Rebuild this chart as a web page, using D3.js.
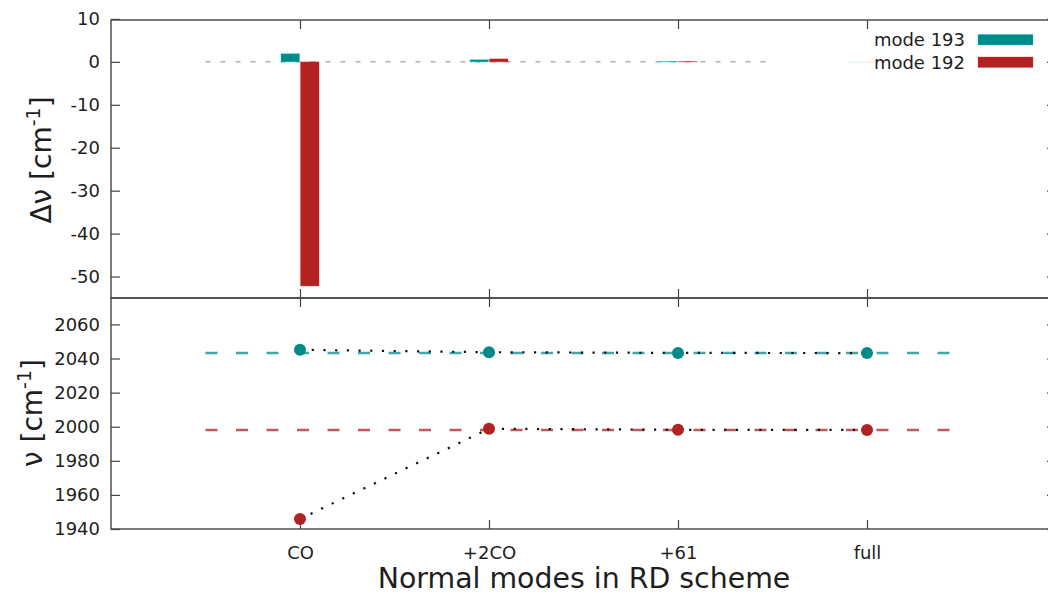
<!DOCTYPE html>
<html>
<head>
<meta charset="utf-8">
<script src="https://cdn.jsdelivr.net/npm/d3@7"></script>
<style>
  html, body { margin: 0; padding: 0; background: #fff; }
  svg { display: block; font-family: "DejaVu Sans", sans-serif; }
</style>
</head>
<body>
<svg id="chart" width="1048" height="595"></svg>
<script>
// Normal-mode subsets of the RD scheme
const categories = ["CO", "+2CO", "+61", "full"];

// Frequencies [cm^-1] for each subset
const mode193 = [2045.1, 2043.7, 2043.3, 2043.2];
const mode192 = [1945.9, 1998.8, 1998.2, 1998.1];

// Shift relative to the full calculation [cm^-1]
const shift193 = [1.9, 0.5, 0.1, 0.0];
const shift192 = [-52.2, 0.7, 0.1, 0.0];

const seriesNames = ["mode 193", "mode 192"];
const topTicks = [10, 0, -10, -20, -30, -40, -50];
const bottomTicks = [1940, 1960, 1980, 2000, 2020, 2040, 2060];

const teal = "#008b8b";
const red = "#b22222";
const frame = "#444";
const ink = "#1e1e1e";

const svg = d3.select("#chart");

const left = 111, right = 1056;
const topY0 = 20, split = 298, botY1 = 529;

const x = d3.scaleLinear().domain([-1, 4]).range([left, right]);
const yTop = d3.scaleLinear().domain([-55, 9.75]).range([split, topY0]);
const yBot = d3.scaleLinear().domain([1940, 2075.5]).range([botY1, split]);

const fs = 18;
const plain = d => String(d);   // hyphen minus, no thousands separator

function styleAxis(g, showLabels) {
  g.select(".domain").remove();
  g.selectAll(".tick line").attr("stroke", frame).attr("stroke-width", 1.2);
  g.selectAll(".tick text")
    .attr("fill", ink)
    .style("font-size", fs + "px")
    .style("font-family", "DejaVu Sans, sans-serif")
    .attr("display", showLabels ? null : "none");
}

// ---------- upper panel: frequency shifts ----------
const upper = svg.append("g");

// zero reference
upper.append("line")
  .attr("x1", x(-0.5)).attr("x2", x(2.5))
  .attr("y1", yTop(0)).attr("y2", yTop(0))
  .attr("stroke", "#8a8a8a").attr("stroke-width", 1)
  .attr("stroke-dasharray", "5,10");

const barW = x(0.098) - x(0);
const barData = [];
categories.forEach((c, i) => {
  barData.push({ i, v: shift193[i], side: -1, color: teal });
  barData.push({ i, v: shift192[i], side: 1, color: red });
});

upper.selectAll("rect.bar")
  .data(barData)
  .join("rect")
  .attr("class", "bar")
  .attr("x", d => d.side < 0 ? x(d.i) - barW - 0.5 : x(d.i) + 0.5)
  .attr("width", barW)
  .attr("y", d => yTop(Math.max(0, d.v)))
  .attr("height", d => Math.max(0.5, Math.abs(yTop(d.v) - yTop(0))))
  .attr("fill", d => d.color)
  .attr("fill-opacity", d => d.v === 0 ? 0.08 : 1)
  .attr("stroke", d => d3.color(d.color).brighter(1.2))
  .attr("stroke-opacity", d => d.v === 0 ? 0.08 : 0.35)
  .attr("stroke-width", 1);

// y axis (left, ticks inward) + mirrored right ticks
upper.append("g")
  .attr("transform", `translate(${left},0)`)
  .call(d3.axisLeft(yTop).tickValues(topTicks).tickFormat(plain).tickSize(-9).tickPadding(11))
  .call(g => styleAxis(g, true));
upper.append("g")
  .attr("transform", `translate(${right},0)`)
  .call(d3.axisRight(yTop).tickValues(topTicks).tickSize(-9))
  .call(g => styleAxis(g, false));
// x ticks on both borders
upper.append("g")
  .attr("transform", `translate(0,${topY0})`)
  .call(d3.axisTop(x).tickValues(d3.range(categories.length)).tickSize(-9))
  .call(g => styleAxis(g, false));
upper.append("g")
  .attr("transform", `translate(0,${split})`)
  .call(d3.axisBottom(x).tickValues(d3.range(categories.length)).tickSize(-9))
  .call(g => styleAxis(g, false));

upper.append("rect")
  .attr("x", left).attr("y", topY0)
  .attr("width", right - left).attr("height", split - topY0)
  .attr("fill", "none").attr("stroke", frame).attr("stroke-width", 1.4);

// legend
const legend = upper.append("g");
[teal, red].forEach((col, k) => {
  const yb = 46 + k * 22.5;
  legend.append("text")
    .attr("x", 965).attr("y", yb)
    .attr("text-anchor", "end")
    .attr("fill", ink)
    .style("font-size", fs + "px")
    .text(seriesNames[k]);
  legend.append("rect")
    .attr("x", 978).attr("y", yb - 11.5)
    .attr("width", 55).attr("height", 10.5)
    .attr("fill", col)
    .attr("stroke", d3.color(col).brighter(1.2))
    .attr("stroke-opacity", 0.35);
});

// y title
upper.append("text")
  .attr("transform", `translate(51,${160}) rotate(-90)`)
  .attr("text-anchor", "middle")
  .attr("fill", ink)
  .style("font-size", "28px")
  .call(t => {
    t.append("tspan").text("Δν [cm");
    t.append("tspan").attr("baseline-shift", "super").style("font-size", "19px").text("-1");
    t.append("tspan").text("]");
  });

// ---------- lower panel: frequencies ----------
const lower = svg.append("g");

const series = [
  { vals: mode193, color: teal },
  { vals: mode192, color: red }
];

// full-calculation reference levels
series.forEach(s => {
  const ref = s.vals[s.vals.length - 1];
  lower.append("line")
    .attr("x1", x(-0.5)).attr("x2", x(3.5))
    .attr("y1", yBot(ref)).attr("y2", yBot(ref))
    .attr("stroke", s.color).attr("stroke-opacity", 0.75)
    .attr("stroke-width", 2.6)
    .attr("stroke-dasharray", "12,18.5");
});

const line = d3.line().x((d, i) => x(i)).y(d => yBot(d));
series.forEach(s => {
  lower.append("path")
    .attr("d", line(s.vals))
    .attr("fill", "none")
    .attr("stroke", "#111")
    .attr("stroke-width", 2.2)
    .attr("stroke-dasharray", "2.2,9.5");
});

series.forEach(s => {
  lower.selectAll(null)
    .data(s.vals)
    .join("circle")
    .attr("cx", (d, i) => x(i))
    .attr("cy", d => yBot(d))
    .attr("r", 6)
    .attr("fill", s.color);
});

lower.append("g")
  .attr("transform", `translate(${left},0)`)
  .call(d3.axisLeft(yBot).tickValues(bottomTicks).tickFormat(plain).tickSize(-9).tickPadding(11))
  .call(g => styleAxis(g, true));
lower.append("g")
  .attr("transform", `translate(${right},0)`)
  .call(d3.axisRight(yBot).tickValues(bottomTicks).tickSize(-9))
  .call(g => styleAxis(g, false));
lower.append("g")
  .attr("transform", `translate(0,${split})`)
  .call(d3.axisTop(x).tickValues(d3.range(categories.length)).tickSize(-9))
  .call(g => styleAxis(g, false));
lower.append("g")
  .attr("transform", `translate(0,${botY1})`)
  .call(d3.axisBottom(x).tickValues(d3.range(categories.length))
    .tickFormat(i => categories[i]).tickSize(-9).tickPadding(17))
  .call(g => styleAxis(g, true));

lower.append("rect")
  .attr("x", left).attr("y", split)
  .attr("width", right - left).attr("height", botY1 - split)
  .attr("fill", "none").attr("stroke", frame).attr("stroke-width", 1.4);

lower.append("text")
  .attr("transform", `translate(42,${413}) rotate(-90)`)
  .attr("text-anchor", "middle")
  .attr("fill", ink)
  .style("font-size", "28px")
  .call(t => {
    t.append("tspan").text("ν [cm");
    t.append("tspan").attr("baseline-shift", "super").style("font-size", "19px").text("-1");
    t.append("tspan").text("]");
  });

svg.append("text")
  .attr("x", 584).attr("y", 588)
  .attr("text-anchor", "middle")
  .attr("fill", ink)
  .style("font-size", "28.4px")
  .text("Normal modes in RD scheme");
</script>
</body>
</html>
